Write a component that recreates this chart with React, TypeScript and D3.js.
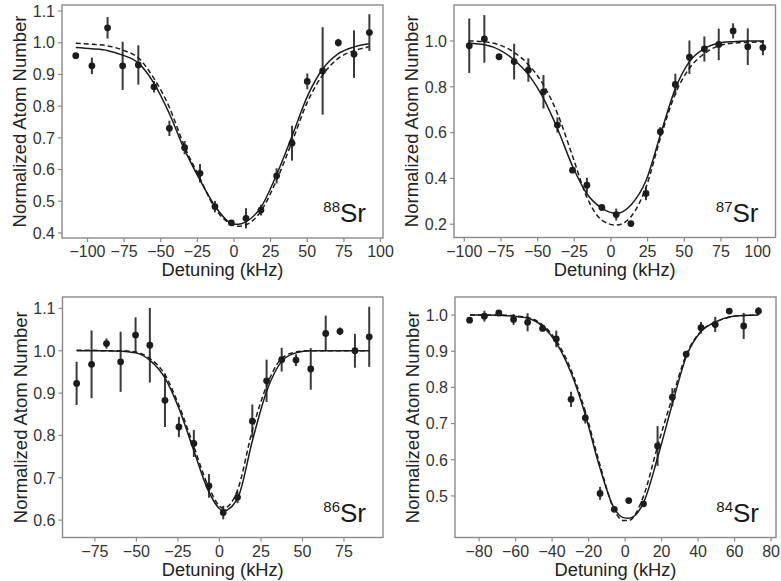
import React from "react";
import * as d3 from "d3";

// ---- 88Sr ----
const sr88Detuning = [-108, -97, -86.3, -76, -65.3, -54.6, -44.1, -33.7, -23.2, -13, -1.8, 8.2, 18.4, 29.1, 39.6, 50, 60.5, 71.2, 81.9, 92.4];
const sr88Atoms = [0.959, 0.927, 1.047, 0.927, 0.93, 0.861, 0.73, 0.669, 0.588, 0.483, 0.432, 0.446, 0.472, 0.58, 0.683, 0.878, 0.911, 1.0, 0.964, 1.032];
const sr88Err = [0, 0.026, 0.034, 0.076, 0.062, 0.018, 0.024, 0.021, 0.029, 0.018, 0.006, 0.032, 0.017, 0.024, 0.055, 0.025, 0.138, 0.012, 0.075, 0.058];
const sr88FitX = [-108, -97, -86, -76, -65, -55, -44, -34, -23, -13, -3, 0, 3, 8, 18, 29, 40, 50, 60.5, 71, 82, 92];
const sr88FitSolid = [0.985, 0.981, 0.975, 0.961, 0.935, 0.875, 0.775, 0.665, 0.565, 0.485, 0.433, 0.427, 0.427, 0.435, 0.478, 0.583, 0.71, 0.83, 0.917, 0.965, 0.987, 0.997];
const sr88FitDashed = [0.998, 0.995, 0.99, 0.977, 0.951, 0.89, 0.795, 0.675, 0.57, 0.478, 0.43, 0.423, 0.421, 0.425, 0.466, 0.566, 0.692, 0.812, 0.898, 0.95, 0.975, 0.987];

// ---- 87Sr ----
const sr87Detuning = [-96.6, -86.3, -76.3, -66, -56.3, -46, -36.5, -26.2, -16.4, -6.2, 3.6, 13.6, 23.9, 33.7, 43.9, 53.5, 63.7, 73.5, 83.3, 93.3, 103.6];
const sr87Atoms = [0.979, 1.009, 0.931, 0.91, 0.873, 0.778, 0.633, 0.436, 0.37, 0.273, 0.242, 0.203, 0.334, 0.604, 0.81, 0.929, 0.965, 0.985, 1.044, 0.975, 0.971];
const sr87Err = [0.119, 0.104, 0.01, 0.078, 0.051, 0.073, 0.033, 0.012, 0.033, 0.01, 0.026, 0.012, 0.029, 0.02, 0.047, 0.073, 0.055, 0.069, 0.033, 0.08, 0.033];
const sr87FitX = [-97, -86, -76, -66, -56, -46, -36.5, -26, -16.5, -6, 3.5, 13.5, 24, 34, 44, 53.5, 64, 73.5, 83, 93, 104];
const sr87FitSolid = [0.99, 0.983, 0.961, 0.917, 0.851, 0.749, 0.618, 0.451, 0.334, 0.269, 0.247, 0.283, 0.392, 0.596, 0.793, 0.91, 0.968, 0.99, 0.997, 1.0, 1.0];
const sr87FitDashed = [1.0, 0.996, 0.983, 0.95, 0.895, 0.808, 0.684, 0.494, 0.319, 0.217, 0.196, 0.232, 0.363, 0.582, 0.771, 0.881, 0.946, 0.979, 0.99, 0.994, 0.996];

// ---- 86Sr ----
const sr86Detuning = [-86, -77, -68, -59.5, -50.5, -41.9, -32.8, -24.4, -15.4, -6.3, 2.3, 10.9, 19.8, 28.4, 37.5, 46.1, 55, 64, 72.6, 81.6, 90.2];
const sr86Atoms = [0.923, 0.968, 1.017, 0.974, 1.037, 1.013, 0.883, 0.82, 0.781, 0.681, 0.618, 0.654, 0.834, 0.929, 0.979, 0.978, 0.957, 1.041, 1.046, 1.0, 1.033];
const sr86Err = [0.051, 0.08, 0.012, 0.071, 0.042, 0.088, 0.063, 0.024, 0.032, 0.028, 0.016, 0.014, 0.039, 0.05, 0.028, 0.014, 0.049, 0.042, 0.009, 0.04, 0.071];
const sr86FitX = [-86, -77, -68, -59.5, -50.5, -42, -33, -24.5, -15.5, -6.5, 2.5, 11, 20, 28.5, 37.5, 46, 55, 64, 72.5, 81.5, 90];
const sr86FitSolid = [1.0, 1.0, 1.0, 0.999, 0.995, 0.978, 0.937, 0.865, 0.765, 0.668, 0.622, 0.652, 0.79, 0.905, 0.975, 0.995, 1.0, 1.0, 1.0, 1.0, 1.0];
const sr86FitDashed = [1.001, 1.001, 1.0, 1.0, 0.997, 0.982, 0.945, 0.872, 0.775, 0.678, 0.628, 0.672, 0.815, 0.918, 0.982, 0.997, 1.0, 1.0, 1.0, 1.0, 1.0];

// ---- 84Sr ----
const sr84Detuning = [-85.2, -77.1, -69.2, -61.1, -53.4, -45.2, -37.7, -29.6, -21.8, -13.7, -5.9, 2, 10.1, 17.8, 25.9, 33.5, 41.6, 49.4, 57.1, 65, 73.1];
const sr84Atoms = [0.986, 0.997, 1.006, 0.988, 0.98, 0.963, 0.934, 0.767, 0.716, 0.507, 0.463, 0.487, 0.478, 0.638, 0.773, 0.892, 0.965, 0.974, 1.011, 0.97, 1.011];
const sr84Err = [0.005, 0.015, 0.005, 0.015, 0.025, 0.005, 0.023, 0.021, 0.016, 0.018, 0.005, 0.005, 0.005, 0.055, 0.025, 0.008, 0.016, 0.021, 0.005, 0.036, 0.011];
const sr84FitX = [-85, -77, -69, -61, -53, -45, -37.5, -29.5, -22, -14, -6, -1, 2, 10, 18, 26, 33.5, 41.5, 49.5, 57, 65, 73];
const sr84FitSolid = [1.0, 1.0, 0.999, 0.997, 0.991, 0.968, 0.922, 0.839, 0.728, 0.581, 0.466, 0.44, 0.438, 0.48, 0.609, 0.756, 0.885, 0.954, 0.981, 0.995, 0.999, 1.0];
const sr84FitDashed = [1.0, 1.0, 1.0, 0.998, 0.993, 0.972, 0.928, 0.847, 0.737, 0.59, 0.462, 0.432, 0.432, 0.498, 0.641, 0.774, 0.89, 0.955, 0.98, 0.994, 0.999, 1.0];

const xTicks100 = [-100, -75, -50, -25, 0, 25, 50, 75, 100];
const xTicks75 = [-75, -50, -25, 0, 25, 50, 75];
const xTicks80 = [-80, -60, -40, -20, 0, 20, 40, 60, 80];
const yTicks88 = [0.4, 0.5, 0.6, 0.7, 0.8, 0.9, 1.0, 1.1];
const yTicks87 = [0.2, 0.4, 0.6, 0.8, 1.0];
const yTicks86 = [0.6, 0.7, 0.8, 0.9, 1.0, 1.1];
const yTicks84 = [0.5, 0.6, 0.7, 0.8, 0.9, 1.0];

const FONT = "'Liberation Sans', Arial, Helvetica, sans-serif";
const INK = "#1c1c1c";
const FRAME = "#8a8a8a";

const panels = [
  {
    mass: "88", left: 62, right: 383, top: 5, bottom: 238,
    xDomain: [-117.4, 101.7], yDomain: [0.384, 1.119], xTicks: xTicks100, yTicks: yTicks88,
    detuning: sr88Detuning, atoms: sr88Atoms, err: sr88Err,
    fitX: sr88FitX, solid: sr88FitSolid, dashed: sr88FitDashed,
  },
  {
    mass: "87", left: 454, right: 775.5, top: 5, bottom: 237.5,
    xDomain: [-107, 112.2], yDomain: [0.142, 1.157], xTicks: xTicks100, yTicks: yTicks87,
    detuning: sr87Detuning, atoms: sr87Atoms, err: sr87Err,
    fitX: sr87FitX, solid: sr87FitSolid, dashed: sr87FitDashed,
  },
  {
    mass: "86", left: 62.5, right: 383, top: 297, bottom: 537.5,
    xDomain: [-94.5, 98.5], yDomain: [0.559, 1.127], xTicks: xTicks75, yTicks: yTicks86,
    detuning: sr86Detuning, atoms: sr86Atoms, err: sr86Err,
    fitX: sr86FitX, solid: sr86FitSolid, dashed: sr86FitDashed,
  },
  {
    mass: "84", left: 455, right: 776, top: 297, bottom: 537.5,
    xDomain: [-93.2, 82.7], yDomain: [0.385, 1.05], xTicks: xTicks80, yTicks: yTicks84,
    detuning: sr84Detuning, atoms: sr84Atoms, err: sr84Err,
    fitX: sr84FitX, solid: sr84FitSolid, dashed: sr84FitDashed,
  },
];

type PanelDef = (typeof panels)[number];

const Panel = ({ p }: { p: PanelDef }) => {
  const x = d3.scaleLinear().domain(p.xDomain).range([p.left, p.right]);
  const y = d3.scaleLinear().domain(p.yDomain).range([p.bottom, p.top]);
  const line = d3
    .line<number>()
    .x((_, i) => x(p.fitX[i]))
    .y((d) => y(d))
    .curve(d3.curveMonotoneX);
  const fmtY = d3.format(".1f");
  const midX = (p.left + p.right) / 2;
  const midY = (p.top + p.bottom) / 2;

  return (
    <g>
      <rect x={p.left} y={p.top} width={p.right - p.left} height={p.bottom - p.top}
        fill="white" stroke={FRAME} strokeWidth={1.4} />

      {p.xTicks.map((t) => (
        <g key={"x" + t}>
          <line x1={x(t)} x2={x(t)} y1={p.bottom} y2={p.bottom + 4} stroke={FRAME} strokeWidth={1.2} />
          <text x={x(t)} y={p.bottom + 19} textAnchor="middle" fontSize={16} fill="#333">
            {d3.format("d")(t)}
          </text>
        </g>
      ))}
      {p.yTicks.map((t) => (
        <g key={"y" + t}>
          <line x1={p.left - 4} x2={p.left} y1={y(t)} y2={y(t)} stroke={FRAME} strokeWidth={1.2} />
          <text x={p.left - 7} y={y(t)} dy="0.36em" textAnchor="end" fontSize={16} fill="#333">
            {fmtY(t)}
          </text>
        </g>
      ))}

      <text x={midX} y={p.bottom + 38} textAnchor="middle" fontSize={18.3} fill="#222">
        Detuning (kHz)
      </text>
      <text transform={`translate(${p.left - 42},${midY}) rotate(-90)`} textAnchor="middle"
        dy="0.35em" fontSize={18.5} fill="#222">
        Normalized Atom Number
      </text>

      {p.detuning.map((d, i) => (
        <line key={"e" + i} x1={x(d)} x2={x(d)} y1={y(p.atoms[i] - p.err[i])} y2={y(p.atoms[i] + p.err[i])}
          stroke="#3a3a3a" strokeWidth={2} />
      ))}

      <path d={line(p.solid) || ""} fill="none" stroke={INK} strokeWidth={1.5} />
      <path d={line(p.dashed) || ""} fill="none" stroke={INK} strokeWidth={1.5} strokeDasharray="5,3" />

      {p.detuning.map((d, i) => (
        <circle key={"p" + i} cx={x(d)} cy={y(p.atoms[i])} r={3.4} fill={INK} />
      ))}

      <text x={p.right - 17} y={p.bottom - 16} textAnchor="end" fill="#1a1a1a">
        <tspan fontSize={15} dy={-10}>{p.mass}</tspan>
        <tspan fontSize={26} dy={10}>Sr</tspan>
      </text>
    </g>
  );
};

export default function App() {
  return (
    <svg width={781} height={581} style={{ position: "absolute", left: 0, top: 0, background: "white" }}
      fontFamily={FONT}>
      <rect width={781} height={581} fill="white" />
      {panels.map((p) => (
        <Panel key={p.mass} p={p} />
      ))}
    </svg>
  );
}
